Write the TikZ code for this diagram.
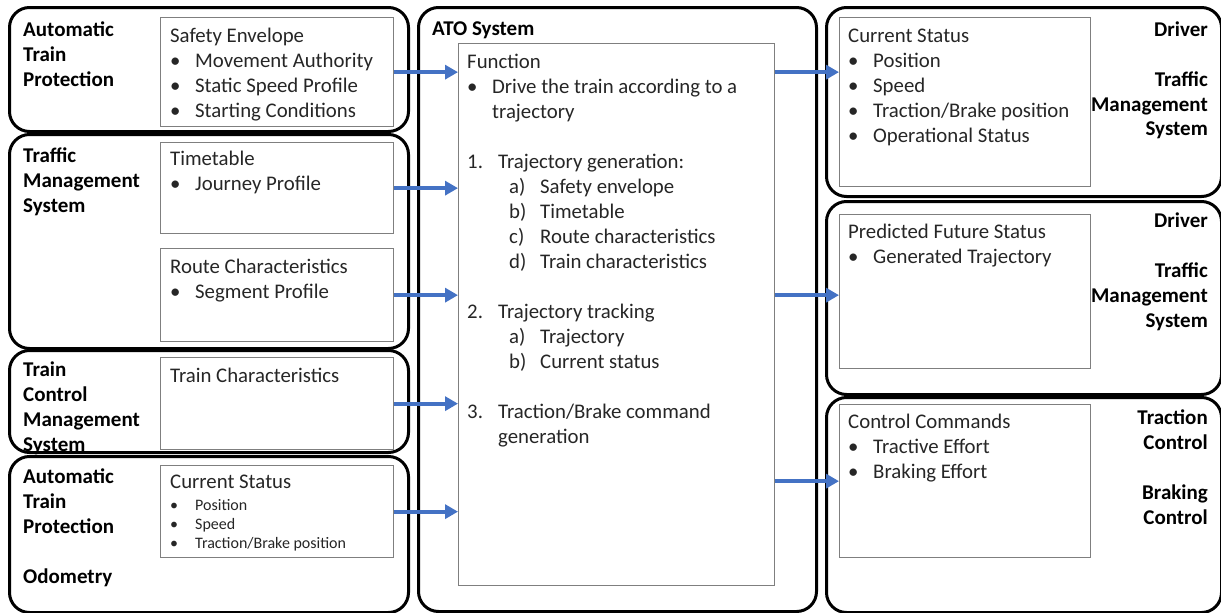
\documentclass[tikz,border=0pt]{standalone}
\usepackage{fontspec}
\setmainfont{Carlito}
\usetikzlibrary{arrows.meta,calc}
\definecolor{txtgray}{HTML}{262626}
\definecolor{boxgray}{HTML}{7F7F7F}
\definecolor{arrblue}{HTML}{4472C4}
\newcommand{\bul}{\makebox[25pt][l]{\textbullet}}
\newcommand{\numitm}[1]{\makebox[31pt][l]{#1}}
\newcommand{\subitm}[1]{\hspace*{42pt}\makebox[31pt][l]{#1}}
\newcommand{\hang}{\hspace*{31pt}}
% stacked lines whose baseline is that of the first line
\newcommand{\rows}[1]{\begin{tabular}[t]{@{}l@{}}#1\end{tabular}}
\newcommand{\rrows}[1]{\begin{tabular}[t]{@{}r@{}}#1\end{tabular}}

\begin{document}
\begin{tikzpicture}[x=1pt,y=-1pt,
  panel/.style={draw=black, line width=3pt, rounded corners=20pt, anchor=north west, inner sep=0pt},
  ibox/.style={draw=boxgray, line width=1.3pt, fill=white, anchor=north west, inner sep=0pt},
  body/.style={anchor=base west, inner sep=0pt, text=txtgray,
    font=\fontsize{20.8}{25}\selectfont},
  small/.style={anchor=base west, inner sep=0pt, text=txtgray,
    font=\fontsize{16}{19}\selectfont},
  lab/.style={anchor=base west, inner sep=0pt, text=black,
    font=\bfseries\fontsize{21}{25}\selectfont},
  rlab/.style={anchor=base east, inner sep=0pt, text=black,
    font=\bfseries\fontsize{21}{25}\selectfont},
  arr/.style={draw=arrblue, line width=4pt, -{Triangle[length=13pt,width=14pt]}},
]
\useasboundingbox (0,0) rectangle (1221,613);

% ---------- left column: input systems ----------
\node[panel, minimum width=399pt, minimum height=124pt] (pATP) at (8,6) {};
\node[panel, minimum width=399pt, minimum height=214pt] (pTMS) at (8,133) {};
\node[panel, minimum width=399pt, minimum height=102pt] (pTCMS) at (8,349) {};
\node[panel, minimum width=399pt, minimum height=156pt] (pODO) at (8,455) {};

\node[lab] (lATP) at (23,36) {\rows{Automatic\\Train\\Protection}};
\node[lab] (lTMS) at (23,162) {\rows{Traffic\\Management\\System}};
\node[lab] (lTCMS) at (23,376) {\rows{Train\\Control\\Management\\System}};
\node[lab] (lODO) at (23,483) {\rows{Automatic\\Train\\Protection\\[25pt]Odometry}};

\node[ibox, minimum width=233pt, minimum height=109pt] (se) at (160,17) {};
\node[ibox, minimum width=233pt, minimum height=91pt] (tt) at (160,142) {};
\node[ibox, minimum width=233pt, minimum height=93pt] (rc) at (160,248) {};
\node[ibox, minimum width=233pt, minimum height=92pt] (tc) at (160,357) {};
\node[ibox, minimum width=233pt, minimum height=92pt] (cs) at (160,465) {};

\node[body] (tse) at (170,42) {\rows{Safety Envelope\\\bul Movement Authority\\\bul Static Speed Profile\\\bul Starting Conditions}};
\node[body] (ttt) at (170,165) {\rows{Timetable\\\bul Journey Profile}};
\node[body] (trc) at (170,273) {\rows{Route Characteristics\\\bul Segment Profile}};
\node[body] (ttc) at (170,382) {Train Characteristics};
\node[body] (tcs) at (170,488) {Current Status};
\node[small] (tcsl) at (170,510) {\rows{\bul Position\\\bul Speed\\\bul Traction/Brake position}};

% ---------- centre: ATO system ----------
\node[panel, minimum width=398pt, minimum height=604pt] (pATO) at (417,6) {};
\node[lab] (lATO) at (432,35) {ATO System};
\node[ibox, minimum width=316pt, minimum height=542pt] (func) at (458,43) {};
\node[body] (tfunc) at (467,68) {\rows{Function\\
\bul Drive the train according to a\\
\hspace*{25pt}trajectory\\[25pt]
\numitm{1.}Trajectory generation:\\
\subitm{a)}Safety envelope\\
\subitm{b)}Timetable\\
\subitm{c)}Route characteristics\\
\subitm{d)}Train characteristics\\[25pt]
\numitm{2.}Trajectory tracking\\
\subitm{a)}Trajectory\\
\subitm{b)}Current status\\[25pt]
\numitm{3.}Traction/Brake command\\
\hang generation}};

% ---------- right column: outputs ----------
\node[panel, minimum width=395pt, minimum height=189pt] (pR1) at (825,6) {};
\node[panel, minimum width=395pt, minimum height=193pt] (pR2) at (825,200) {};
\node[panel, minimum width=395pt, minimum height=215pt] (pR3) at (825,396) {};

\node[ibox, minimum width=251pt, minimum height=169pt] (ocs) at (839,17) {};
\node[ibox, minimum width=251pt, minimum height=154pt] (pfs) at (839,214) {};
\node[ibox, minimum width=251pt, minimum height=153pt] (cc) at (839,404) {};

\node[body] (tocs) at (848,42) {\rows{Current Status\\\bul Position\\\bul Speed\\\bul Traction/Brake position\\\bul Operational Status}};
\node[body] (tpfs) at (848,238) {\rows{Predicted Future Status\\\bul Generated Trajectory}};
\node[body] (tcc) at (848,428) {\rows{Control Commands\\\bul Tractive Effort\\\bul Braking Effort}};

\node[rlab] (lR1) at (1208,36) {\rrows{Driver\\[25pt]Traffic\\Management\\System}};
\node[rlab] (lR2) at (1208,227) {\rrows{Driver\\[25pt]Traffic\\Management\\System}};
\node[rlab] (lR3) at (1208,424) {\rrows{Traction\\Control\\[25pt]Braking\\Control}};

% ---------- data flows ----------
\draw[arr] (se.east) -- (se.east -| func.west);
\draw[arr] (tt.east) -- (tt.east -| func.west);
\draw[arr] (rc.east) -- (rc.east -| func.west);
\draw[arr] (tc.east) -- (tc.east -| func.west);
\draw[arr] (cs.east) -- (cs.east -| func.west);
\draw[arr] (se.east -| func.east) -- (se.east -| ocs.west);
\draw[arr] (rc.east -| func.east) -- (rc.east -| pfs.west);
\draw[arr] (cc.west -| func.east) -- (cc.west);
\end{tikzpicture}
\end{document}
